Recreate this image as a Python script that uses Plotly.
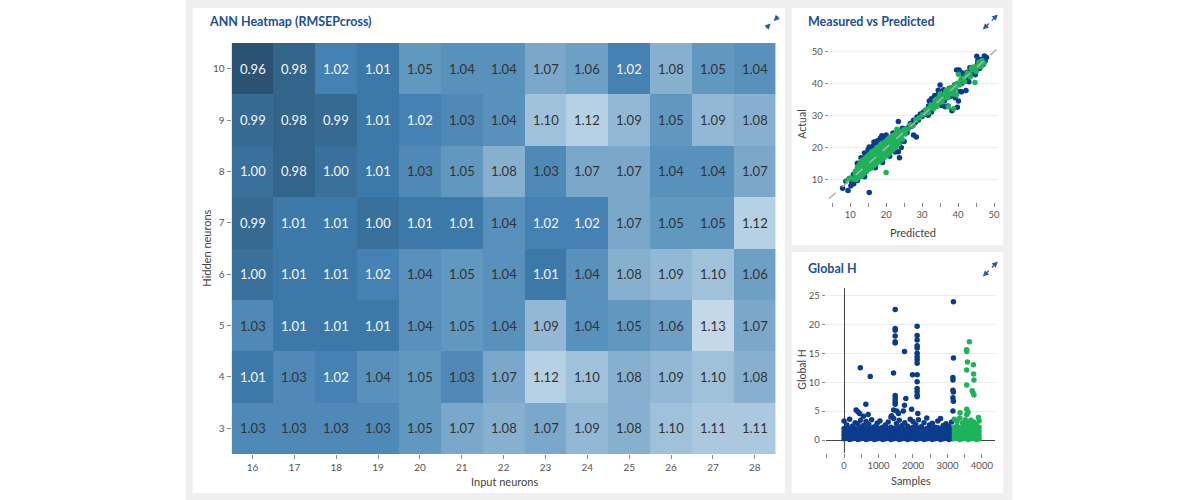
import plotly.graph_objects as go

W, H = 1200, 500
FONT = "Lato"
TITLE_COLOR = "#1e4f91"
TICK_COLOR = "#555555"
LABEL_COLOR = "#444444"
BLUE = "#0b3c8c"
GREEN = "#20b25a"

# ---------------- Heatmap data ----------------
INPUT_NEURONS = [16, 17, 18, 19, 20, 21, 22, 23, 24, 25, 26, 27, 28]
HIDDEN_NEURONS = [3, 4, 5, 6, 7, 8, 9, 10]
RMSEP_H3 = [1.03, 1.03, 1.03, 1.03, 1.05, 1.07, 1.08, 1.07, 1.09, 1.08, 1.10, 1.11, 1.11]
RMSEP_H4 = [1.01, 1.03, 1.02, 1.04, 1.05, 1.03, 1.07, 1.12, 1.10, 1.08, 1.09, 1.10, 1.08]
RMSEP_H5 = [1.03, 1.01, 1.01, 1.01, 1.04, 1.05, 1.04, 1.09, 1.04, 1.05, 1.06, 1.13, 1.07]
RMSEP_H6 = [1.00, 1.01, 1.01, 1.02, 1.04, 1.05, 1.04, 1.01, 1.04, 1.08, 1.09, 1.10, 1.06]
RMSEP_H7 = [0.99, 1.01, 1.01, 1.00, 1.01, 1.01, 1.04, 1.02, 1.02, 1.07, 1.05, 1.05, 1.12]
RMSEP_H8 = [1.00, 0.98, 1.00, 1.01, 1.03, 1.05, 1.08, 1.03, 1.07, 1.07, 1.04, 1.04, 1.07]
RMSEP_H9 = [0.99, 0.98, 0.99, 1.01, 1.02, 1.03, 1.04, 1.10, 1.12, 1.09, 1.05, 1.09, 1.08]
RMSEP_H10 = [0.96, 0.98, 1.02, 1.01, 1.05, 1.04, 1.04, 1.07, 1.06, 1.02, 1.08, 1.05, 1.04]
RMSEP = [RMSEP_H3, RMSEP_H4, RMSEP_H5, RMSEP_H6, RMSEP_H7, RMSEP_H8, RMSEP_H9, RMSEP_H10]

# ---------------- Measured vs Predicted data (predicted, actual) ----------------
MVP_BLUE = [
    (7.9, 7.4), (9.4, 6.7), (15.3, 6.1), (8.8, 9.6), (9.8, 10.4), (10.4, 9.3), (10.9, 11.7),
    (11.3, 10.4), (11.8, 12.6), (12.1, 13.8), (12.4, 11.3), (12.8, 14.6), (13.0, 12.1),
    (13.3, 15.6), (13.6, 13.0), (13.9, 16.3), (14.1, 13.6), (14.3, 17.2), (14.6, 15.1),
    (14.9, 17.8), (15.1, 14.2), (15.3, 20.3), (15.4, 18.3), (15.7, 15.6), (16.0, 19.6),
    (16.1, 16.4), (16.4, 20.6), (16.6, 17.6), (16.9, 21.2), (17.1, 15.7), (17.4, 19.1),
    (17.6, 22.2), (17.9, 17.2), (18.1, 20.6), (18.4, 23.1), (18.6, 18.6), (18.9, 21.6),
    (19.1, 16.8), (19.4, 22.6), (19.8, 23.4), (19.7, 19.1), (20.0, 24.0), (20.2, 17.6),
    (20.6, 21.2), (20.9, 23.2), (21.1, 19.1), (21.5, 22.1), (21.9, 24.6), (22.1, 20.6),
    (22.5, 23.6), (22.9, 22.1), (23.2, 25.1), (23.7, 16.9), (23.4, 18.8), (23.6, 21.6),
    (24.1, 23.1), (24.5, 26.1), (24.2, 20.1), (25.0, 22.0), (28.4, 23.4),
    (12.0, 15.2), (13.0, 16.9), (14.0, 18.4), (15.0, 19.5), (16.6, 21.8), (18.8, 23.8),
    (17.0, 13.8), (19.0, 15.4), (21.0, 17.4), (22.5, 18.7), (14.0, 11.0), (12.0, 9.8),
    (11.0, 8.8), (10.2, 8.2),
    (12.5, 12.9), (13.5, 14.2), (14.5, 14.0), (15.5, 16.8), (16.5, 15.9), (17.5, 18.3),
    (18.5, 19.8), (19.5, 20.4), (20.5, 19.6), (21.5, 21.0), (22.5, 21.9), (16.2, 18.1),
    (17.8, 16.2), (19.0, 18.0), (20.3, 22.5), (18.0, 21.8), (14.8, 16.3), (13.2, 11.9),
    (21.0, 22.8), (22.8, 24.0),
    (25.3, 25.9), (25.8, 24.7), (26.3, 26.4), (26.7, 27.6), (27.2, 26.8), (27.6, 28.6),
    (28.1, 27.9), (28.6, 29.6), (29.0, 28.7), (29.5, 30.6), (30.0, 29.8), (30.4, 31.2),
    (30.9, 31.6), (31.3, 30.4), (31.8, 33.1), (32.2, 32.0), (32.6, 31.2), (33.0, 34.1),
    (32.0, 34.6), (32.6, 35.3), (31.7, 30.2), (27.6, 24.0), (23.4, 28.2),
    (33.2, 35.6), (33.5, 36.3), (33.6, 33.0), (34.0, 36.1), (34.2, 34.6), (34.6, 37.1),
    (35.0, 35.6), (35.4, 33.2), (35.6, 36.6), (36.0, 38.1), (36.2, 34.6), (36.6, 35.6),
    (37.0, 37.1), (37.2, 33.1), (37.6, 38.6), (38.0, 36.1), (38.3, 31.6), (38.6, 37.6),
    (39.0, 39.6), (39.2, 35.6), (39.8, 32.7), (40.1, 34.6), (35.0, 39.6), (34.5, 38.0),
    (36.4, 32.8),
    (40.3, 44.3), (40.6, 37.6), (41.0, 40.1), (41.5, 42.6), (42.0, 41.1), (42.2, 37.9),
    (42.5, 43.6), (43.0, 42.1), (43.3, 45.0), (43.6, 44.1), (44.0, 43.1), (44.5, 45.1),
    (45.0, 44.1), (45.4, 46.1), (45.8, 45.6), (46.2, 47.6), (46.6, 46.6), (47.0, 46.0),
    (47.3, 48.7), (47.9, 48.2), (46.0, 44.8), (44.8, 42.8), (43.0, 40.6), (41.2, 43.4),
    (45.5, 47.2), (47.5, 47.0), (39.6, 44.3), (45.2, 48.6), (41.0, 37.5),
]
MVP_GREEN = [
    (9.2, 9.9), (10.1, 10.6), (10.8, 10.3), (11.4, 11.9), (11.9, 11.2), (12.3, 12.8),
    (12.6, 13.6), (12.9, 12.4), (13.2, 14.0), (13.4, 12.9), (13.7, 14.6), (13.9, 13.4),
    (14.2, 15.1), (14.4, 14.0), (14.7, 15.6), (14.9, 14.6), (15.2, 16.1), (15.4, 15.0),
    (15.6, 16.7), (15.9, 15.5), (16.1, 17.2), (16.3, 16.1), (16.6, 17.6), (16.8, 16.4),
    (17.0, 18.1), (17.2, 17.0), (17.5, 18.6), (17.7, 17.3), (18.0, 19.0), (18.2, 17.8),
    (18.4, 19.6), (18.7, 18.4), (18.9, 20.1), (19.1, 18.7), (19.4, 20.4), (19.6, 19.2),
    (19.9, 20.9), (20.1, 19.6), (20.4, 21.2), (20.6, 20.2), (20.9, 21.8), (21.2, 20.7),
    (21.5, 22.3), (21.8, 21.2), (22.1, 22.8), (22.4, 21.6), (22.8, 23.4), (23.2, 22.5),
    (23.6, 24.0), (24.0, 23.2), (20.0, 12.3), (13.0, 15.5), (14.0, 12.2), (16.0, 18.8),
    (17.0, 15.3), (18.5, 21.0), (19.5, 17.4), (21.0, 23.3), (22.0, 19.9), (15.0, 17.3),
    (11.5, 12.8), (11.7, 10.1), (12.0, 13.9), (12.2, 11.0), (12.5, 14.6), (12.7, 10.9),
    (13.0, 13.3), (13.1, 15.9), (13.3, 11.4), (13.6, 16.2), (13.8, 12.1), (14.0, 14.2),
    (14.3, 16.8), (14.5, 12.6), (14.8, 17.4), (15.0, 13.2), (15.3, 15.5), (15.5, 18.1),
    (15.8, 13.6), (16.0, 16.0), (16.2, 18.9), (16.5, 14.3), (16.7, 19.2), (17.0, 16.9),
    (17.2, 14.9), (17.4, 20.0), (17.7, 18.0), (18.0, 15.7), (18.2, 20.6), (18.4, 18.2),
    (18.7, 16.2), (18.9, 21.4), (19.2, 19.3), (19.4, 16.9), (19.7, 21.8), (19.9, 19.9),
    (20.2, 17.6), (20.4, 22.6), (20.7, 20.6), (21.0, 18.4), (21.2, 23.2), (21.5, 21.0),
    (21.8, 19.3), (22.0, 23.9), (22.3, 22.1), (22.6, 20.2), (22.9, 24.6), (23.2, 22.9),
    (23.5, 21.2), (23.8, 25.0), (24.2, 24.0), (24.5, 22.6), (24.9, 25.6), (25.3, 24.3),
    (23.0, 25.8), (24.6, 24.9), (25.2, 25.6), (26.0, 25.8), (26.8, 27.2), (27.5, 27.0),
    (28.3, 28.7), (29.2, 29.4), (30.1, 30.3), (31.0, 30.8), (32.0, 32.4), (33.0, 33.2),
    (31.0, 31.9), (31.8, 31.0), (32.5, 33.4), (33.2, 32.3), (33.6, 34.8), (34.2, 33.0),
    (34.8, 35.9), (35.5, 34.3), (36.0, 36.2), (36.6, 37.6), (37.2, 35.6), (37.9, 38.7),
    (38.4, 36.8), (39.3, 38.4), (39.8, 40.2), (40.4, 39.6), (41.0, 41.6), (41.8, 40.6),
    (37.3, 32.8), (39.5, 36.6),
    (33.8, 34.3), (34.5, 34.1), (35.2, 35.6), (35.8, 35.2), (36.4, 36.9), (37.0, 36.4),
    (37.6, 37.9), (38.2, 37.6), (38.8, 32.2), (39.0, 39.4), (38.5, 38.9), (36.8, 38.0),
    (35.0, 36.8), (34.0, 35.2), (40.1, 43.0), (40.8, 41.2), (41.6, 41.8), (42.4, 42.6),
    (43.2, 43.0), (44.0, 44.4), (44.7, 40.4), (44.8, 44.7), (45.5, 45.6), (46.2, 46.0),
    (46.8, 46.8), (47.2, 46.4), (45.8, 46.7), (43.7, 44.8), (42.6, 43.4), (43.4, 42.2),
    (44.2, 45.2), (45.0, 43.8), (45.9, 45.3), (46.6, 47.2), (46.4, 45.4),
]

# ---------------- Global H data ----------------
# dense band: (sample, h1, h2, h3, h4, h5)
GH_BAND_BLUE = [
    (0, 0.2, 0.8, 1.4, 2.0, 3.3), (80, 0.3, 0.9, 1.5, 2.1, 2.6), (160, 0.1, 0.7, 1.3, 1.9, 3.6),
    (240, 0.2, 0.8, 1.5, 2.2, 2.4), (320, 0.3, 0.9, 1.4, 2.0, 3.0), (400, 0.1, 0.7, 1.3, 1.9, 2.8),
    (480, 0.2, 0.8, 1.5, 2.1, 3.4), (560, 0.3, 0.9, 1.4, 1.8, 2.5), (640, 0.1, 0.7, 1.3, 2.0, 3.2),
    (720, 0.2, 0.8, 1.5, 2.2, 2.7), (800, 0.3, 0.9, 1.4, 2.0, 3.5), (880, 0.1, 0.7, 1.3, 1.9, 2.3),
    (960, 0.2, 0.8, 1.5, 2.1, 2.9), (1040, 0.3, 0.9, 1.4, 2.0, 3.3), (1120, 0.1, 0.7, 1.3, 1.8, 2.2),
    (1200, 0.2, 0.8, 1.5, 2.1, 2.6), (1280, 0.3, 0.9, 1.4, 2.0, 3.1), (1360, 0.1, 0.7, 1.3, 2.2, 4.0),
    (1440, 0.2, 0.8, 1.5, 2.0, 3.7), (1520, 0.3, 0.9, 1.4, 1.9, 2.8), (1600, 0.1, 0.7, 1.3, 2.1, 3.4),
    (1680, 0.2, 0.8, 1.5, 2.0, 2.5), (1760, 0.3, 0.9, 1.4, 1.8, 3.0), (1840, 0.1, 0.7, 1.3, 2.1, 2.4),
    (1920, 0.2, 0.8, 1.5, 2.0, 3.6), (2000, 0.3, 0.9, 1.4, 2.2, 3.2), (2080, 0.1, 0.7, 1.3, 1.9, 2.7),
    (2160, 0.2, 0.8, 1.5, 2.0, 3.5), (2240, 0.3, 0.9, 1.4, 2.1, 2.3), (2320, 0.1, 0.7, 1.3, 1.8, 3.0),
    (2400, 0.2, 0.8, 1.5, 2.0, 3.8), (2480, 0.3, 0.9, 1.4, 2.2, 2.6), (2560, 0.1, 0.7, 1.3, 1.9, 2.9),
    (2640, 0.2, 0.8, 1.5, 2.0, 2.2), (2720, 0.3, 0.9, 1.4, 2.1, 3.3), (2800, 0.1, 0.7, 1.3, 2.0, 3.7),
    (2880, 0.2, 0.8, 1.5, 1.8, 2.5), (2960, 0.3, 0.9, 1.4, 2.0, 2.8), (3040, 0.1, 0.7, 1.3, 2.1, 2.4),
    (3120, 0.2, 0.8, 1.5, 2.0, 3.1),
]
GH_BAND_GREEN = [
    (3200, 0.2, 0.8, 1.5, 2.2, 3.6), (3280, 0.3, 0.9, 1.6, 2.4, 3.2), (3360, 0.1, 0.7, 1.4, 2.1, 3.8),
    (3440, 0.2, 0.8, 1.5, 2.3, 3.0), (3520, 0.3, 0.9, 1.6, 2.5, 3.5), (3600, 0.1, 0.7, 1.4, 2.2, 2.9),
    (3680, 0.2, 0.8, 1.5, 2.4, 3.4), (3760, 0.3, 0.9, 1.6, 2.1, 3.1), (3840, 0.1, 0.7, 1.4, 2.3, 2.7),
    (3920, 0.2, 0.8, 1.5, 2.2, 3.3),
]
GH_PEAKS_BLUE = [
    (470, 12.5), (760, 11.0), (632, 6.2), (350, 5.2), (400, 4.9), (450, 4.6), (560, 4.1),
    (700, 4.4), (1484, 22.6), (1484, 19.3), (1484, 19.0), (1484, 18.0), (1484, 17.0),
    (1484, 16.8), (1435, 11.6), (1484, 7.7), (1484, 7.3), (1484, 6.9), (1484, 6.5),
    (1484, 6.2), (1440, 5.2), (1530, 5.0), (1580, 4.6), (1380, 4.2), (1754, 15.3),
    (1792, 7.2), (1754, 6.0), (1720, 5.0), (1986, 11.3), (1960, 5.3), (2121, 19.7),
    (2121, 18.1), (2121, 17.3), (2121, 16.3), (2121, 15.9), (2121, 15.0), (2121, 14.4),
    (2121, 13.9), (2121, 13.3), (2121, 11.3), (2121, 10.1), (2121, 8.9), (2121, 8.4),
    (2121, 7.8), (2121, 7.5), (2140, 4.6), (3174, 23.9), (3174, 14.2), (3160, 10.8),
    (3160, 10.4), (3160, 8.6), (3174, 8.3), (3160, 7.3), (3174, 6.7), (3160, 5.0),
]
GH_PEAKS_GREEN = [
    (3638, 17.0), (3560, 15.6), (3560, 15.3), (3580, 13.5), (3754, 13.0), (3560, 12.1),
    (3760, 11.4), (3770, 10.4), (3560, 9.5), (3720, 8.5), (3740, 8.2), (3770, 7.8),
    (3368, 4.7), (3560, 5.3), (3600, 4.8), (3560, 4.4), (3899, 3.9),
]


def flatten_band(band):
    xs, ys = [], []
    for row in band:
        for v in row[1:]:
            xs.append(row[0])
            ys.append(v)
    return xs, ys


def px_x(p):
    return p / W


def px_y(p):
    return 1 - p / H


fig = go.Figure()

# Heatmap
COLORSCALE = [
    [0.0, "#2b5272"], [0.118, "#33658a"], [0.235, "#3a709c"], [0.294, "#3d79a8"],
    [0.353, "#4581b2"], [0.412, "#4f89b7"], [0.529, "#6098c0"], [0.647, "#7ba8ca"],
    [0.765, "#93b8d5"], [0.824, "#a0c1da"], [0.941, "#b6d0e4"], [1.0, "#c3d8e8"],
]
fig.add_trace(go.Heatmap(
    x=INPUT_NEURONS, y=HIDDEN_NEURONS, z=RMSEP, colorscale=COLORSCALE,
    zmin=0.96, zmax=1.13, showscale=False, xaxis="x", yaxis="y", hoverinfo="skip",
))

# Measured vs predicted
fig.add_trace(go.Scatter(
    x=[p[0] for p in MVP_BLUE], y=[p[1] for p in MVP_BLUE], mode="markers",
    marker=dict(color=BLUE, size=5.5), xaxis="x2", yaxis="y2", showlegend=False,
))
fig.add_trace(go.Scatter(
    x=[p[0] for p in MVP_GREEN], y=[p[1] for p in MVP_GREEN], mode="markers",
    marker=dict(color=GREEN, size=5.5), xaxis="x2", yaxis="y2", showlegend=False,
))
all_vals = [v for p in MVP_BLUE + MVP_GREEN for v in p]
lo, hi = min(all_vals) - 2, max(all_vals) + 2
fig.add_trace(go.Scatter(
    x=[lo, hi], y=[lo, hi], mode="lines",
    line=dict(color="#b0b0b0", width=1.5, dash="dash"), xaxis="x2", yaxis="y2", showlegend=False,
))

# Global H
bx, by = flatten_band(GH_BAND_BLUE)
gx, gy = flatten_band(GH_BAND_GREEN)
fig.add_trace(go.Scatter(
    x=bx + [p[0] for p in GH_PEAKS_BLUE], y=by + [p[1] for p in GH_PEAKS_BLUE], mode="markers",
    marker=dict(color=BLUE, size=5.5), xaxis="x3", yaxis="y3", showlegend=False,
))
fig.add_trace(go.Scatter(
    x=gx + [p[0] for p in GH_PEAKS_GREEN], y=gy + [p[1] for p in GH_PEAKS_GREEN], mode="markers",
    marker=dict(color=GREEN, size=5.5), xaxis="x3", yaxis="y3", showlegend=False,
))

tickfont = dict(family=FONT, size=10, color=TICK_COLOR)
smallfont = dict(family=FONT, size=9.5, color=TICK_COLOR)

annotations = []
# cell text
for i, hn in enumerate(HIDDEN_NEURONS):
    for j, inn in enumerate(INPUT_NEURONS):
        v = RMSEP[i][j]
        annotations.append(dict(
            x=inn, y=hn, xref="x", yref="y", text=f"{v:.2f}", showarrow=False,
            font=dict(family=FONT, size=13, color="#f4f6f8" if v <= 1.02 else "#333333"),
        ))


def text_ann(text, x, y, size=11, color=LABEL_COLOR, angle=0, anchor="center", bold=False):
    annotations.append(dict(
        x=px_x(x), y=px_y(y), xref="paper", yref="paper", text=text, showarrow=False,
        textangle=angle, xanchor=anchor, yanchor="middle",
        font=dict(family=FONT, size=size, color=color, weight="bold" if bold else "normal"),
    ))


# titles
text_ann("ANN Heatmap (RMSEPcross)", 207, 21, size=12.5, color=TITLE_COLOR, anchor="left", bold=True)
text_ann("Measured vs Predicted", 807, 21, size=12.5, color=TITLE_COLOR, anchor="left", bold=True)
text_ann("Global H", 807, 268, size=12.5, color=TITLE_COLOR, anchor="left", bold=True)
# axis titles
text_ann("Input neurons", 505, 481)
text_ann("Hidden neurons", 206, 248, angle=-90)
text_ann("Predicted", 915, 233)
text_ann("Actual", 803, 124, size=10.5, angle=-90)
text_ann("Samples", 913, 480)
text_ann("Global H", 803, 370, size=10.5, angle=-90)


def arrow(head, tail):
    annotations.append(dict(
        x=px_x(head[0]), y=px_y(head[1]), xref="paper", yref="paper",
        ax=tail[0] - head[0], ay=tail[1] - head[1], text="", showarrow=True,
        arrowhead=2, arrowsize=0.9, arrowwidth=1.3, arrowcolor="#2e5e9e",
    ))


# compress icon (heatmap card)
arrow((775.0, 21.0), (781, 15))
arrow((772.0, 23.5), (766, 29.5))
# expand icons
for cy in (22, 269):
    arrow((999.5, cy - 7.5), (992, cy))
    arrow((984.5, cy + 7.5), (992, cy))

shapes = [
    dict(type="rect", xref="paper", yref="paper", x0=px_x(186), x1=px_x(1014), y0=0, y1=1,
         fillcolor="#efefef", line=dict(width=0), layer="below"),
    dict(type="rect", xref="paper", yref="paper", x0=px_x(193), x1=px_x(786), y0=px_y(493), y1=px_y(8),
         fillcolor="white", line=dict(width=0), layer="below"),
    dict(type="rect", xref="paper", yref="paper", x0=px_x(793), x1=px_x(1005), y0=px_y(245), y1=px_y(8),
         fillcolor="white", line=dict(width=0), layer="below"),
    dict(type="rect", xref="paper", yref="paper", x0=px_x(793), x1=px_x(1005), y0=px_y(493), y1=px_y(252),
         fillcolor="white", line=dict(width=0), layer="below"),
]

fig.update_layout(
    width=W, height=H, margin=dict(l=0, r=0, t=0, b=0),
    paper_bgcolor="white", plot_bgcolor="rgba(0,0,0,0)",
    showlegend=False, font=dict(family=FONT, color=TICK_COLOR),
    shapes=shapes, annotations=annotations,
    xaxis=dict(domain=[px_x(232), px_x(777)], range=[15.5, 28.5], dtick=1, tick0=16,
               ticks="outside", ticklen=4, tickcolor="#888", showgrid=False, zeroline=False,
               tickfont=tickfont, fixedrange=True),
    yaxis=dict(domain=[px_y(454), px_y(43)], range=[2.5, 10.5], dtick=1, tick0=3,
               ticks="outside", ticklen=4, tickcolor="#888", showgrid=False, zeroline=False,
               tickfont=tickfont, fixedrange=True),
    xaxis2=dict(domain=[px_x(830), px_x(1000)], range=[4.0, 51.2], dtick=10, tick0=0,
                ticks="outside", ticklen=4, tickcolor="#888", showgrid=False, zeroline=False,
                minor=dict(dtick=5, tick0=0, ticks="outside", ticklen=4, tickcolor="#888", showgrid=False),
                tickfont=smallfont, anchor="y2"),
    yaxis2=dict(domain=[px_y(202), px_y(45)], range=[3.1, 52.1], dtick=10, tick0=0,
                ticks="outside", ticklen=3, tickcolor="#888", showgrid=True, gridcolor="#ececec",
                zeroline=False, tickfont=smallfont, anchor="x2"),
    xaxis3=dict(domain=[px_x(827), px_x(997)], range=[-536, 4391], dtick=1000, tick0=0,
                ticks="outside", ticklen=4, tickcolor="#888", showgrid=False,
                zeroline=True, zerolinecolor="#444", zerolinewidth=1,
                minor=dict(dtick=500, tick0=0, ticks="outside", ticklen=4, tickcolor="#888", showgrid=False),
                tickfont=smallfont, anchor="y3"),
    yaxis3=dict(domain=[px_y(453), px_y(288)], range=[-2.25, 26.3], dtick=5, tick0=0,
                ticks="outside", ticklen=3, tickcolor="#888", showgrid=True, gridcolor="#ececec",
                zeroline=True, zerolinecolor="#444", zerolinewidth=1, tickfont=smallfont, anchor="x3"),
)

fig.write_html("out.html", config={"displayModeBar": False},
               post_script="document.body.style.margin='0';")
